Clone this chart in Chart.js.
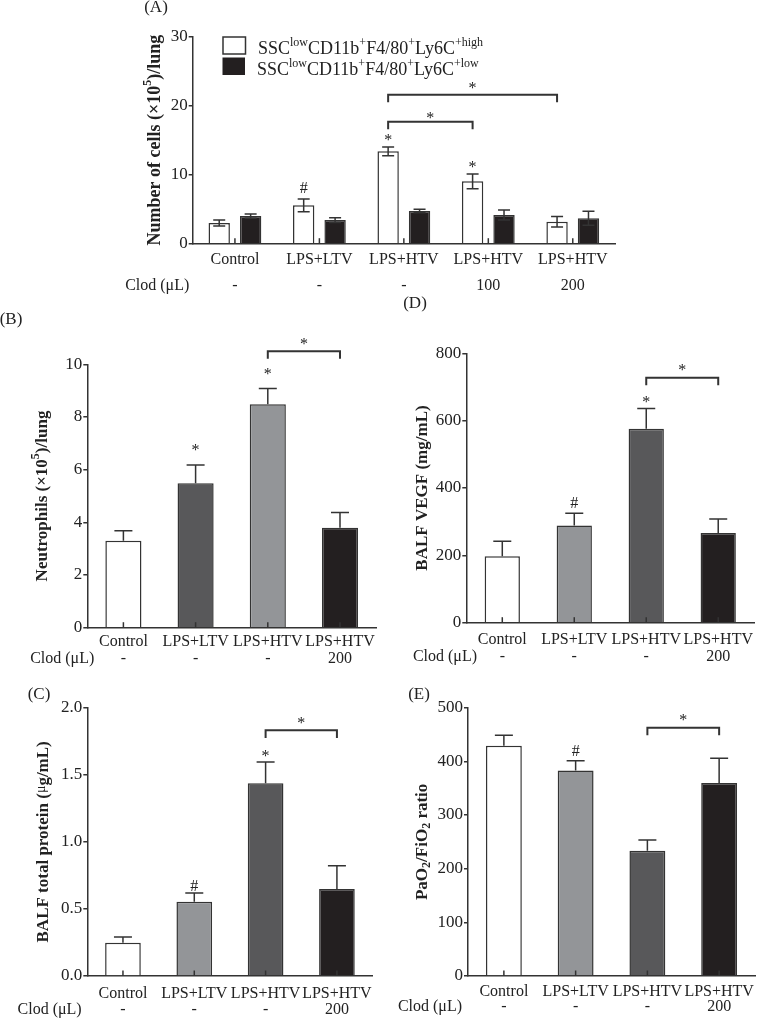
<!DOCTYPE html>
<html lang="en">
<head>
  <meta charset="UTF-8" />
  <title>Monocytes, neutrophils, BALF and oxygenation</title>
  <style>
    body {
      margin: 0;
      background: #ffffff;
      overflow: hidden;
    }
    #wrap {
      position: relative;
      width: 762px;
      height: 1020px;
      overflow: hidden;
    }
    canvas {
      position: absolute;
    }
  </style>
</head>
<body>
  <div id="wrap">
    <canvas id="chartA"></canvas>
    <canvas id="chartB"></canvas>
    <canvas id="chartD"></canvas>
    <canvas id="chartC"></canvas>
    <canvas id="chartE"></canvas>
  </div>

  <script src="https://cdn.jsdelivr.net/npm/chart.js"></script>
  <script>
    const SERIF = "'Liberation Serif', 'Times New Roman', serif";
    Chart.defaults.font.family = SERIF;
    Chart.defaults.color = '#222';

    // ---- data ----
    const groupsA = ['Control', 'LPS+LTV', 'LPS+HTV', 'LPS+HTV', 'LPS+HTV'];
    const clodA = ['-', '-', '-', '100', '200'];
    const highA = [3.0, 5.56, 13.39, 9.04, 3.19];
    const highErrA = [0.42, 0.92, 0.63, 1.07, 0.77];
    const lowA = [4.0, 3.43, 4.74, 4.16, 3.68];
    const lowErrA = [0.3, 0.34, 0.24, 0.72, 1.01];
    const highMarksA = ['', '#', '*', '*', ''];

    const groups4 = ['Control', 'LPS+LTV', 'LPS+HTV', 'LPS+HTV'];
    const clod4 = ['-', '-', '-', '200'];

    const neutroB = [3.30, 5.48, 8.48, 3.79];
    const neutroErrB = [0.38, 0.70, 0.60, 0.58];
    const marksB = ['', '*', '*', ''];

    const vegfD = [197, 289, 576, 266];
    const vegfErrD = [45, 36, 60, 42];
    const marksD = ['', '#', '*', ''];

    const proteinC = [0.248, 0.554, 1.436, 0.648];
    const proteinErrC = [0.042, 0.065, 0.159, 0.174];
    const marksC = ['', '#', '*', ''];

    const ratioE = [429, 383, 233.5, 359.6];
    const ratioErrE = [19.5, 18, 20, 46];
    const marksE = ['', '#', '', ''];

    const WHITE = '#ffffff', DARK = '#58585a', LIGHT = '#939598', BLACK = '#231f20';
    const INK = '#333333';

    // text with superscripts / subscripts
    function rich(ctx, parts, x, y, size, weight, align) {
      const fontFor = k => {
        if (k === 'mu') return `normal ${Math.round(size * 0.8)}px ${SERIF}`;
        if (k) return `${weight} ${Math.round(size * 0.68)}px ${SERIF}`;
        return `${weight} ${size}px ${SERIF}`;
      };
      let w = 0;
      parts.forEach(([t, k]) => { ctx.font = fontFor(k); w += ctx.measureText(t).width; });
      let cx = align === 'center' ? x - w / 2 : x;
      ctx.textAlign = 'left';
      parts.forEach(([t, k]) => {
        ctx.font = fontFor(k);
        let dy = 0;
        if (k === 'sup') dy = -size * 0.42;
        if (k === 'sub') dy = size * 0.24;
        if (k === 'mu') dy = -size * 0.12;
        ctx.fillText(t, cx, y + dy);
        cx += ctx.measureText(t).width;
      });
    }

    function drawMark(ctx, sym, x, cy, size) {
      ctx.font = `${size}px ${SERIF}`;
      ctx.textAlign = 'center';
      ctx.textBaseline = 'alphabetic';
      const base = cy + (sym === '*' ? 0.47 : 0.34) * size;
      ctx.fillText(sym, x, base);
    }

    function makeDecor(cfg) {
      return {
        id: 'decor' + cfg.id,
        afterDatasetsDraw(chart) {
          const ctx = chart.ctx;
          const xs = chart.scales.x, ys = chart.scales.y;
          const area = chart.chartArea;
          ctx.save();
          ctx.strokeStyle = INK;
          ctx.fillStyle = '#222';
          ctx.lineWidth = 1.5;

          // inward x ticks
          xs.ticks.forEach((t, i) => {
            const px = xs.getPixelForTick(i);
            ctx.beginPath();
            ctx.moveTo(px, area.bottom);
            ctx.lineTo(px, area.bottom - 5.5);
            ctx.stroke();
          });

          // error bars and marks
          cfg.errors.forEach((errs, di) => {
            const meta = chart.getDatasetMeta(di);
            const vals = chart.data.datasets[di].data;
            meta.data.forEach((bar, i) => {
              const v = vals[i], e = errs[i];
              const yTop = ys.getPixelForValue(v + e);
              const yLow = cfg.bothSides ? ys.getPixelForValue(v - e) : ys.getPixelForValue(v);
              const half = cfg.capW / 2;
              ctx.beginPath();
              ctx.moveTo(bar.x, yLow);
              ctx.lineTo(bar.x, yTop);
              ctx.moveTo(bar.x - half, yTop);
              ctx.lineTo(bar.x + half, yTop);
              if (cfg.bothSides) {
                ctx.moveTo(bar.x - half, yLow);
                ctx.lineTo(bar.x + half, yLow);
              }
              ctx.stroke();
              const sym = (cfg.marks[di] || [])[i];
              if (sym) drawMark(ctx, sym, bar.x, yTop - cfg.markGap[sym], 16);
            });
          });

          // significance brackets
          ctx.lineWidth = 2;
          cfg.brackets.forEach(b => {
            const meta = chart.getDatasetMeta(b.ds);
            const x1 = meta.data[b.from].x, x2 = meta.data[b.to].x;
            const y = ys.getPixelForValue(b.y);
            ctx.beginPath();
            ctx.moveTo(x1, y + 7.6);
            ctx.lineTo(x1, y);
            ctx.lineTo(x2, y);
            ctx.lineTo(x2, y + 7.6);
            ctx.stroke();
            drawMark(ctx, '*', (x1 + x2) / 2, y - b.gap, 16);
          });
          ctx.restore();
        },
        afterDraw(chart) {
          const ctx = chart.ctx;
          const area = chart.chartArea;
          ctx.save();
          ctx.fillStyle = '#222';

          // y title
          ctx.translate(area.left + cfg.titleDx, (area.top + area.bottom) / 2);
          ctx.rotate(-Math.PI / 2);
          ctx.textBaseline = 'middle';
          rich(ctx, cfg.title, 0, 0, cfg.titleSize || 17, 'bold', 'center');
          ctx.setTransform(1, 0, 0, 1, 0, 0);

          // Clod row caption
          ctx.font = `16px ${SERIF}`;
          ctx.textAlign = 'right';
          ctx.textBaseline = 'middle';
          const rowY = area.bottom + cfg.labelPad + cfg.lineH * 1.5;
          ctx.fillText('Clod (\u03bcL)', area.left + cfg.clodDx, rowY);

          // panel letters
          ctx.font = `17px ${SERIF}`;
          ctx.textAlign = 'center';
          cfg.letters.forEach(([txt, x, y]) => ctx.fillText(txt, x, y));

          if (cfg.legend) cfg.legend(ctx);
          ctx.restore();
        }
      };
    }

    function makePanel(cfg) {
      const el = document.getElementById(cfg.canvas);
      el.width = cfg.w;
      el.height = cfg.h;
      el.style.left = cfg.left + 'px';
      el.style.top = cfg.top + 'px';
      el.style.width = cfg.w + 'px';
      el.style.height = cfg.h + 'px';
      const a = cfg.area;
      const xH = cfg.h - a.b;
      return new Chart(el, {
        type: 'bar',
        data: {
          labels: cfg.labels.map((g, i) => [g, cfg.clod[i]]),
          datasets: cfg.datasets.map(d => ({
            data: d.data,
            backgroundColor: d.colors,
            borderColor: INK,
            borderWidth: 1.5,
            categoryPercentage: cfg.catPct,
            barPercentage: cfg.barPct
          }))
        },
        options: {
          responsive: false,
          animation: false,
          events: [],
          layout: {
            padding: { left: a.l - 40, top: a.t, right: cfg.w - a.r, bottom: 0 }
          },
          plugins: { legend: { display: false }, tooltip: { enabled: false } },
          scales: {
            x: {
              grid: { display: false, drawTicks: false },
              border: { color: INK, width: 1.5 },
              ticks: {
                autoSkip: false, maxRotation: 0, minRotation: 0,
                padding: cfg.labelPad, color: '#222',
                font: { size: 16, lineHeight: cfg.lineH / 16 }
              },
              afterFit: s => { s.height = xH; }
            },
            y: {
              min: 0, max: cfg.yMax,
              ticks: {
                stepSize: cfg.yStep, padding: 1, color: '#222',
                font: { size: 17 },
                callback: v => cfg.yDec ? v.toFixed(cfg.yDec) : v
              },
              grid: { drawOnChartArea: false, tickLength: 4, color: INK, lineWidth: 1.5 },
              border: { color: INK, width: 1.5 },
              afterFit: s => { s.width = 40; }
            }
          }
        },
        plugins: [makeDecor(cfg)]
      });
    }

    const legendParts = tail => [['SSC', ''], ['low', 'sup'], ['CD11b', ''], ['+', 'sup'], ['F4/80', ''], ['+', 'sup'], ['Ly6C', ''], [tail, 'sup']];

    // (A)
    makePanel({
      id: 'A', canvas: 'chartA', left: 0, top: 0, w: 762, h: 320,
      area: { l: 192.7, t: 36.7, r: 615, b: 243.7 },
      labels: groupsA, clod: clodA,
      datasets: [
        { data: highA, colors: WHITE },
        { data: lowA, colors: BLACK }
      ],
      catPct: 0.744, barPct: 0.68,
      errors: [highErrA, lowErrA], bothSides: true, capW: 12,
      marks: [highMarksA, []], markGap: { '*': 9.5, '#': 11.4 },
      brackets: [
        { ds: 0, from: 2, to: 3, y: 17.68, gap: 6.7 },
        { ds: 0, from: 2, to: 4, y: 21.6, gap: 8.7 }
      ],
      yMax: 30, yStep: 10, yDec: 0,
      labelPad: 3.3, lineH: 26, clodDx: -3.4, titleDx: -37.7, titleSize: 18,
      title: [['Number of cells (\u00d710', ''], ['5', 'sup'], [')/lung', '']],
      letters: [['(A)', 156, 8], ['(D)', 415, 304]],
      legend: ctx => {
        ctx.lineWidth = 1.5;
        ctx.strokeStyle = INK;
        ctx.fillStyle = WHITE;
        ctx.fillRect(223, 37, 22.5, 17);
        ctx.strokeRect(223, 37, 22.5, 17);
        ctx.fillStyle = BLACK;
        ctx.fillRect(222.5, 57.5, 22.5, 17.5);
        ctx.fillStyle = '#222';
        ctx.textBaseline = 'alphabetic';
        rich(ctx, legendParts('+high'), 258, 54, 18, 'normal', 'left');
        rich(ctx, legendParts('+low'), 257, 75, 18, 'normal', 'left');
      }
    });

    // (B)
    makePanel({
      id: 'B', canvas: 'chartB', left: 0, top: 305, w: 381, h: 365,
      area: { l: 87.3, t: 59.3, r: 376.5, b: 322.7 },
      labels: groups4, clod: clod4,
      datasets: [{ data: neutroB, colors: [WHITE, DARK, LIGHT, BLACK] }],
      catPct: 1, barPct: 0.5,
      errors: [neutroErrB], bothSides: false, capW: 18,
      marks: [marksB], markGap: { '*': 17.5, '#': 17.5 },
      brackets: [{ ds: 0, from: 2, to: 3, y: 10.5, gap: 9.6 }],
      yMax: 10, yStep: 2, yDec: 0,
      labelPad: 5.7, lineH: 16.6, clodDx: 7, titleDx: -44.6,
      title: [['Neutrophils (\u00d710', ''], ['5', 'sup'], [')/lung', '']],
      letters: [['(B)', 11, 15]]
    });

    // (D)
    makePanel({
      id: 'D', canvas: 'chartD', left: 381, top: 305, w: 381, h: 365,
      area: { l: 85.3, t: 48.3, r: 380.7, b: 317.7 },
      labels: groups4, clod: clod4,
      datasets: [{ data: vegfD, colors: [WHITE, LIGHT, DARK, BLACK] }],
      catPct: 1, barPct: 0.49,
      errors: [vegfErrD], bothSides: false, capW: 18,
      marks: [marksD], markGap: { '*': 9.4, '#': 10.6 },
      brackets: [{ ds: 0, from: 2, to: 3, y: 727.7, gap: 10.4 }],
      yMax: 800, yStep: 200, yDec: 0,
      labelPad: 9, lineH: 16.6, clodDx: 10.7, titleDx: -43.6,
      title: [['BALF VEGF (mg/mL)', '']],
      letters: []
    });

    // (C)
    makePanel({
      id: 'C', canvas: 'chartC', left: 0, top: 670, w: 381, h: 350,
      area: { l: 87.3, t: 37.7, r: 378.3, b: 306 },
      labels: groups4, clod: clod4,
      datasets: [{ data: proteinC, colors: [WHITE, LIGHT, DARK, BLACK] }],
      catPct: 1, barPct: 0.5,
      errors: [proteinErrC], bothSides: false, capW: 18,
      marks: [marksC], markGap: { '*': 8.7, '#': 7.7 },
      brackets: [{ ds: 0, from: 2, to: 3, y: 1.831, gap: 10.3 }],
      yMax: 2, yStep: 0.5, yDec: 1,
      labelPad: 9, lineH: 16.6, clodDx: -5.6, titleDx: -44,
      title: [['BALF total protein (', ''], ['\u03bc', 'mu'], ['g/mL)', '']],
      letters: [['(C)', 39, 25]]
    });

    // (E)
    makePanel({
      id: 'E', canvas: 'chartE', left: 381, top: 670, w: 381, h: 350,
      area: { l: 87, t: 37.7, r: 380, b: 306 },
      labels: groups4, clod: clod4,
      datasets: [{ data: ratioE, colors: [WHITE, LIGHT, DARK, BLACK] }],
      catPct: 1, barPct: 0.5,
      errors: [ratioErrE], bothSides: false, capW: 18,
      marks: [marksE], markGap: { '*': 10, '#': 10 },
      brackets: [{ ds: 0, from: 2, to: 3, y: 462.7, gap: 10.4 }],
      yMax: 500, yStep: 100, yDec: 0,
      labelPad: 8, lineH: 15, clodDx: -6, titleDx: -45.3,
      title: [['PaO', ''], ['2', 'sub'], ['/FiO', ''], ['2', 'sub'], [' ratio', '']],
      letters: [['(E)', 38, 25]]
    });
  </script>
</body>
</html>
